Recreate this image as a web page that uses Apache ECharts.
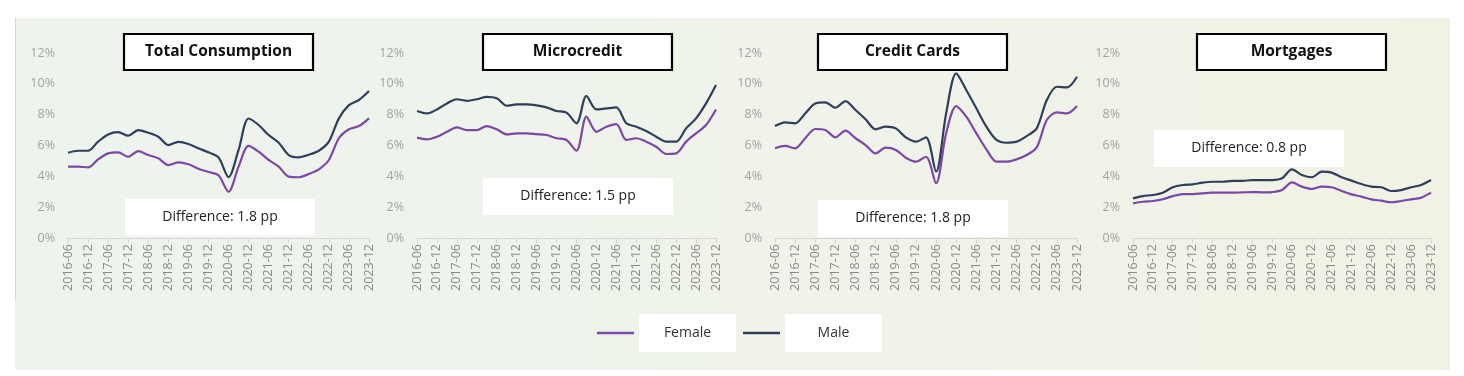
<!DOCTYPE html>
<html>
<head>
<meta charset="utf-8">
<script src="https://cdn.jsdelivr.net/npm/echarts@6/dist/echarts.min.js"></script>
<style>
  html, body { margin: 0; padding: 0; background: #fff; }
  #chart { width: 1464px; height: 376px; }
</style>
</head>
<body>
<div id="chart"></div>
<script>
// quarterly, 2016-06 .. 2023-12
var quarters = [];
for (var y = 2016; y <= 2023; y++) {
    ['03', '06', '09', '12'].forEach(function (m) {
        var q = y + '-' + m;
        if (q >= '2016-06') quarters.push(q);
    });
}

var panelTitles = ['Total Consumption', 'Microcredit', 'Credit Cards', 'Mortgages'];
var panelDiffs = ['Difference: 1.8 pp', 'Difference: 1.5 pp', 'Difference: 1.8 pp', 'Difference: 0.8 pp'];

var consumptionFemale = [4.63, 4.63, 4.58, 5.1, 5.49, 5.56, 5.27, 5.64, 5.38, 5.17, 4.73, 4.9, 4.78, 4.49, 4.28, 4.07,
    3.0, 4.63, 5.97, 5.6, 5.06, 4.63, 3.98, 3.94, 4.15, 4.45, 5.06, 6.47, 7.05, 7.26, 7.76];
var consumptionMale = [5.53, 5.66, 5.66, 6.25, 6.72, 6.87, 6.64, 7.0, 6.83, 6.57, 6.03, 6.23, 6.1, 5.82, 5.56, 5.23,
    3.95, 5.71, 7.75, 7.33, 6.68, 6.18, 5.38, 5.23, 5.4, 5.66, 6.25, 7.76, 8.62, 8.95, 9.53];

var microFemale = [6.51, 6.4, 6.57, 6.89, 7.18, 7.0, 7.0, 7.26, 7.05, 6.72, 6.79, 6.79, 6.74, 6.68, 6.47, 6.36,
    5.66, 7.87, 6.89, 7.22, 7.39, 6.36, 6.47, 6.25, 5.92, 5.45, 5.49, 6.25, 6.79, 7.33, 8.34];
var microMale = [8.24, 8.08, 8.34, 8.73, 9.0, 8.9, 9.0, 9.16, 9.06, 8.58, 8.67, 8.67, 8.6, 8.47, 8.24, 8.13,
    7.44, 9.21, 8.34, 8.41, 8.47, 7.44, 7.22, 6.94, 6.57, 6.25, 6.25, 7.11, 7.76, 8.73, 9.92];

var cardsFemale = [5.82, 5.97, 5.82, 6.47, 7.07, 7.0, 6.53, 6.96, 6.47, 6.03, 5.49, 5.86, 5.71, 5.21, 4.95, 5.27,
    3.55, 6.79, 8.56, 7.87, 6.79, 5.75, 4.95, 4.95, 5.1, 5.38, 5.88, 7.65, 8.15, 8.08, 8.56];
var cardsMale = [7.26, 7.5, 7.44, 8.08, 8.73, 8.8, 8.45, 8.88, 8.3, 7.7, 7.05, 7.22, 7.11, 6.53, 6.25, 6.53,
    4.3, 8.08, 10.68, 9.6, 8.41, 7.22, 6.36, 6.18, 6.25, 6.61, 7.11, 8.95, 9.81, 9.77, 10.46];

var mortgageFemale = [2.25, 2.35, 2.4, 2.51, 2.72, 2.85, 2.85, 2.9, 2.94, 2.94, 2.94, 2.96, 2.98, 2.96, 2.98, 3.11,
    3.61, 3.33, 3.18, 3.33, 3.29, 3.05, 2.83, 2.68, 2.51, 2.42, 2.32, 2.4, 2.51, 2.61, 2.94];
var mortgageMale = [2.57, 2.72, 2.79, 2.94, 3.29, 3.44, 3.48, 3.59, 3.65, 3.65, 3.7, 3.7, 3.76, 3.76, 3.76, 3.87,
    4.45, 4.09, 3.94, 4.3, 4.24, 3.94, 3.72, 3.5, 3.33, 3.29, 3.05, 3.11, 3.29, 3.44, 3.76];

var femaleData = [consumptionFemale, microFemale, cardsFemale, mortgageFemale];
var maleData = [consumptionMale, microMale, cardsMale, mortgageMale];

var FEMALE_COLOR = '#7D47AA';
var MALE_COLOR = '#2F3E5C';
var FONT = "'Open Sans', sans-serif";

// layout of each small chart: plot left/right, title box x, diff box x/y
var panels = [
    {left: 68, right: 369, titleX: 124, diffX: 125, diffY: 199},
    {left: 417, right: 716, titleX: 483, diffX: 483, diffY: 178},
    {left: 775, right: 1077, titleX: 818, diffX: 818, diffY: 200},
    {left: 1133, right: 1431, titleX: 1197, diffX: 1154, diffY: 130}
];

function panel_xAxis(i) {
    return {
        type: 'category',
        gridIndex: i,
        data: quarters,
        boundaryGap: false,
        axisLine: {lineStyle: {color: '#d6d6d6', width: 1}},
        axisTick: {interval: 1, length: 5, lineStyle: {color: '#d6d6d6'}},
        axisLabel: {
            interval: 1, rotate: 90, margin: 6,
            color: '#8a8a8a', fontSize: 12.5, fontFamily: FONT
        }
    };
}

function panel_yAxis(i) {
    return {
        type: 'value',
        gridIndex: i,
        min: 0, max: 12, interval: 2,
        axisLine: {show: false},
        axisTick: {show: false},
        splitLine: {show: false},
        axisLabel: {
            formatter: '{value}%', margin: 13,
            color: '#a3a3a3', fontSize: 12.5, fontFamily: FONT
        }
    };
}

function panel_series(name, i, data, color) {
    return {
        type: 'line',
        name: name,
        xAxisIndex: i,
        yAxisIndex: i,
        data: data,
        symbol: 'none',
        smooth: 0.3,
        lineStyle: {color: color, width: 2.2},
        itemStyle: {color: color}
    };
}

function text_box(x, y, w, h, text, bold, border) {
    return {
        type: 'group',
        z: 100,
        children: [
            {
                type: 'rect',
                shape: {x: x, y: y, width: w, height: h},
                style: border ? {fill: '#fff', stroke: '#000', lineWidth: 2.2} : {fill: '#fff'}
            },
            {
                type: 'text',
                style: {
                    x: x + w / 2, y: y + h / 2,
                    text: text, align: 'center', verticalAlign: 'middle',
                    fill: bold ? '#111' : '#222',
                    font: (bold ? 'bold 15.5px ' : '14px ') + FONT
                }
            }
        ]
    };
}

var options = {
    backgroundColor: '#fff',
    animation: false,
    grid: [], xAxis: [], yAxis: [], series: [],
    legend: {
        data: ['Female', 'Male'],
        left: 597, top: 314, padding: 0,
        icon: 'rect', itemWidth: 37, itemHeight: 2.5, itemGap: 7,
        formatter: '{box|{name}}',
        textStyle: {
            rich: {
                box: {
                    color: '#333', fontSize: 14, fontFamily: FONT,
                    backgroundColor: '#fff', width: 97, height: 38, lineHeight: 38, align: 'center'
                }
            }
        }
    },
    graphic: [
        {
            type: 'rect', z: -100,
            shape: {x: 15, y: 18, width: 1435, height: 352},
            style: {
                fill: new echarts.graphic.LinearGradient(0, 0, 1, 0, [
                    {offset: 0, color: '#EDF4EE'},
                    {offset: 0.5, color: '#EFF3EA'},
                    {offset: 1, color: '#F1F2E5'}
                ])
            }
        },
        {
            type: 'line', z: -99,
            shape: {x1: 15.5, y1: 18, x2: 15.5, y2: 300},
            style: {stroke: '#d8d8d8', lineWidth: 1}
        }
    ]
};

panels.forEach(function (p, i) {
    options.grid.push({left: p.left, width: p.right - p.left, top: 53, height: 185});
    options.xAxis.push(panel_xAxis(i));
    options.yAxis.push(panel_yAxis(i));
    options.series.push(panel_series('Female', i, femaleData[i], FEMALE_COLOR));
    options.series.push(panel_series('Male', i, maleData[i], MALE_COLOR));
    options.graphic.push(text_box(p.titleX, 34, 189, 36, panelTitles[i], true, true));
    options.graphic.push(text_box(p.diffX, p.diffY, 190, 37, panelDiffs[i], false, false));
});

var chart = echarts.init(document.getElementById('chart'));
chart.setOption(options);
</script>
</body>
</html>
